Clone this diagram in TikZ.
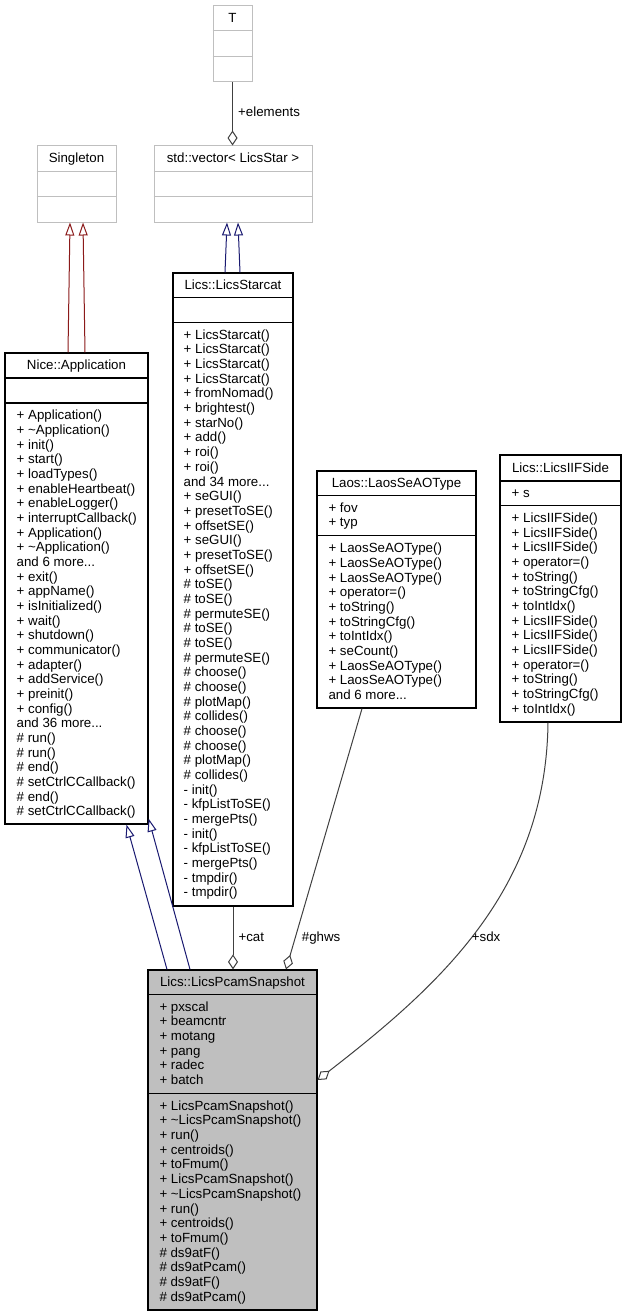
\documentclass[tikz,border=0pt]{standalone}
\usepackage{fontspec}
\setmainfont{Liberation Sans}
\usetikzlibrary{arrows.meta}
\definecolor{grey75}{HTML}{BFBFBF}
\definecolor{grey25}{HTML}{404040}
\definecolor{midnight}{HTML}{191970}
\definecolor{firebrick}{HTML}{8B1A1A}
\newcommand{\dxfont}{\fontsize{13.3}{14.7}\selectfont}
\newcommand{\mdots}{...}
\newcommand{\mlines}[4]{\foreach \mline [count=\mi] in {#4} {\node[mem] (#1-\mi) at (#2,{#3+(\mi-1)*14.67}) {\mline};}}
\begin{document}
\begin{tikzpicture}[x=1pt,y=-1pt,
  box/.style={draw=black,line width=1.2pt,inner sep=0pt},
  gbox/.style={draw=grey75,line width=1pt,inner sep=0pt},
  sepb/.style={draw=black,line width=1.2pt},
  sepg/.style={draw=grey75,line width=1pt},
  ttl/.style={font=\dxfont,inner sep=0pt,anchor=base},
  mem/.style={font=\dxfont,inner sep=0pt,anchor=base west},
  lbl/.style={font=\dxfont,inner sep=0pt,anchor=base west},
  inh/.style={draw=midnight,line width=1pt,-{Triangle[open,length=13pt,width=9pt]}},
  pinh/.style={draw=firebrick,line width=1pt,-{Triangle[open,length=13pt,width=9pt]}},
  agg/.style={draw=grey25,line width=1pt,-{Diamond[open,length=15pt,width=10pt]}}
]
\useasboundingbox (0,0) rectangle (626,1316);

% ---------- T ----------
\node[gbox,minimum width=39pt,minimum height=76pt] (T) at (232.5,44) {};
\draw[sepg] ([yshift=-25.5pt]T.north west) -- ([yshift=-25.5pt]T.north east);
\draw[sepg] ([yshift=-51pt]T.north west) -- ([yshift=-51pt]T.north east);
\node[ttl] (T-t) at (232.5,22.5) {T};

% ---------- Singleton ----------
\node[gbox,minimum width=79pt,minimum height=76pt] (sing) at (76.5,184) {};
\draw[sepg] ([yshift=-26pt]sing.north west) -- ([yshift=-26pt]sing.north east);
\draw[sepg] ([yshift=-51pt]sing.north west) -- ([yshift=-51pt]sing.north east);
\node[ttl] (sing-t) at (76.5,162.5) {Singleton};

% ---------- std::vector ----------
\node[gbox,minimum width=158pt,minimum height=76pt] (vec) at (233,184) {};
\draw[sepg] ([yshift=-26pt]vec.north west) -- ([yshift=-26pt]vec.north east);
\draw[sepg] ([yshift=-51pt]vec.north west) -- ([yshift=-51pt]vec.north east);
\node[ttl] (vec-t) at (233,162.5) {std::vector< LicsStar >};

% ---------- Lics::LicsStarcat ----------
\node[box,minimum width=120pt,minimum height=633pt] (cat) at (233,589.5) {};
\draw[sepb] ([yshift=-25pt]cat.north west) -- ([yshift=-25pt]cat.north east);
\draw[sepb] ([yshift=-50pt]cat.north west) -- ([yshift=-50pt]cat.north east);
\node[ttl] (cat-t) at (233,289.5) {Lics::LicsStarcat};
\mlines{catm}{183.5}{339.3}{+ LicsStarcat(),+ LicsStarcat(),+ LicsStarcat(),+ LicsStarcat(),+ fromNomad(),+ brightest(),+ starNo(),+ add(),+ roi(),+ roi(),and 34 more\mdots,+ seGUI(),+ presetToSE(),+ offsetSE(),+ seGUI(),+ presetToSE(),+ offsetSE(),\# toSE(),\# toSE(),\# permuteSE(),\# toSE(),\# toSE(),\# permuteSE(),\# choose(),\# choose(),\# plotMap(),\# collides(),\# choose(),\# choose(),\# plotMap(),\# collides(),- init(),- kfpListToSE(),- mergePts(),- init(),- kfpListToSE(),- mergePts(),- tmpdir(),- tmpdir()}

% ---------- Nice::Application ----------
\node[box,minimum width=143pt,minimum height=471pt] (app) at (76.5,588.5) {};
\draw[sepb] ([yshift=-25.5pt]app.north west) -- ([yshift=-25.5pt]app.north east);
\draw[sepb] ([yshift=-50.5pt]app.north west) -- ([yshift=-50.5pt]app.north east);
\node[ttl] (app-t) at (76.5,369.5) {Nice::Application};
\mlines{appm}{16.5}{419.8}{+ Application(),+ \textasciitilde Application(),+ init(),+ start(),+ loadTypes(),+ enableHeartbeat(),+ enableLogger(),+ interruptCallback(),+ Application(),+ \textasciitilde Application(),and 6 more\mdots,+ exit(),+ appName(),+ isInitialized(),+ wait(),+ shutdown(),+ communicator(),+ adapter(),+ addService(),+ preinit(),+ config(),and 36 more\mdots,\# run(),\# run(),\# end(),\# setCtrlCCallback(),\# end(),\# setCtrlCCallback()}

% ---------- Laos::LaosSeAOType ----------
\node[box,minimum width=159pt,minimum height=237pt] (laos) at (396.5,589.5) {};
\draw[sepb] ([yshift=-25pt]laos.north west) -- ([yshift=-25pt]laos.north east);
\draw[sepb] ([yshift=-65pt]laos.north west) -- ([yshift=-65pt]laos.north east);
\node[ttl] (laos-t) at (396.5,487.5) {Laos::LaosSeAOType};
\mlines{laosa}{328.3}{512.3}{+ fov,+ typ}
\mlines{laosm}{328.3}{552.8}{+ LaosSeAOType(),+ LaosSeAOType(),+ LaosSeAOType(),+ operator=(),+ toString(),+ toStringCfg(),+ toIntIdx(),+ seCount(),+ LaosSeAOType(),+ LaosSeAOType(),and 6 more\mdots}

% ---------- Lics::LicsIIFSide ----------
\node[box,minimum width=121pt,minimum height=267pt] (iif) at (560.5,588.5) {};
\draw[sepb] ([yshift=-26.5pt]iif.north west) -- ([yshift=-26.5pt]iif.north east);
\draw[sepb] ([yshift=-51pt]iif.north west) -- ([yshift=-51pt]iif.north east);
\node[ttl] (iif-t) at (560.5,472) {Lics::LicsIIFSide};
\mlines{iifa}{511.5}{497.8}{+ s}
\mlines{iifm}{511.5}{522.6}{+ LicsIIFSide(),+ LicsIIFSide(),+ LicsIIFSide(),+ operator=(),+ toString(),+ toStringCfg(),+ toIntIdx(),+ LicsIIFSide(),+ LicsIIFSide(),+ LicsIIFSide(),+ operator=(),+ toString(),+ toStringCfg(),+ toIntIdx()}

% ---------- Lics::LicsPcamSnapshot ----------
\node[box,fill=grey75,minimum width=169pt,minimum height=340pt] (pcam) at (232.5,1140) {};
\draw[sepb] ([yshift=-25pt]pcam.north west) -- ([yshift=-25pt]pcam.north east);
\draw[sepb] ([yshift=-124pt]pcam.north west) -- ([yshift=-124pt]pcam.north east);
\node[ttl] (pcam-t) at (232.5,986.5) {Lics::LicsPcamSnapshot};
\mlines{pcama}{159.3}{1011.3}{+ pxscal,+ beamcntr,+ motang,+ pang,+ radec,+ batch}
\mlines{pcamm}{159.3}{1110.3}{+ LicsPcamSnapshot(),+ \textasciitilde LicsPcamSnapshot(),+ run(),+ centroids(),+ toFmum(),+ LicsPcamSnapshot(),+ \textasciitilde LicsPcamSnapshot(),+ run(),+ centroids(),+ toFmum(),\# ds9atF(),\# ds9atPcam(),\# ds9atF(),\# ds9atPcam()}

% ---------- connectors ----------
\draw[agg] (T.south) -- (T.south |- vec.north);
\node[lbl] (l-elem) at (238,117) {+elements};

\draw[pinh] ([xshift=-8.5pt]app.north) -- ([xshift=-6.5pt]sing.south);
\draw[pinh] ([xshift=8.5pt]app.north) -- ([xshift=6.5pt]sing.south);

\draw[inh] ([xshift=-8pt]cat.north) -- ([xshift=-6pt]vec.south);
\draw[inh] ([xshift=7pt]cat.north) -- ([xshift=5pt]vec.south);

\draw[inh] ([xshift=-65.5pt]pcam.north) -- ([xshift=50pt]app.south);
\draw[inh] ([xshift=-42.5pt]pcam.north) -- ([yshift=6pt]app.south east);

\draw[agg] (cat.south) -- (cat.south |- pcam.north);
\node[lbl] (l-cat) at (238.3,941) {+cat};

\draw[agg] ([xshift=-34.5pt]laos.south) -- ([xshift=53.5pt]pcam.north);
\node[lbl] (l-ghws) at (301.7,941) {\#ghws};

\draw[agg] ([xshift=-12.5pt]iif.south) .. controls (546,890) and (440,985) .. ([yshift=60pt]pcam.east);
\node[lbl] (l-sdx) at (471.7,941) {+sdx};
\end{tikzpicture}
\end{document}
